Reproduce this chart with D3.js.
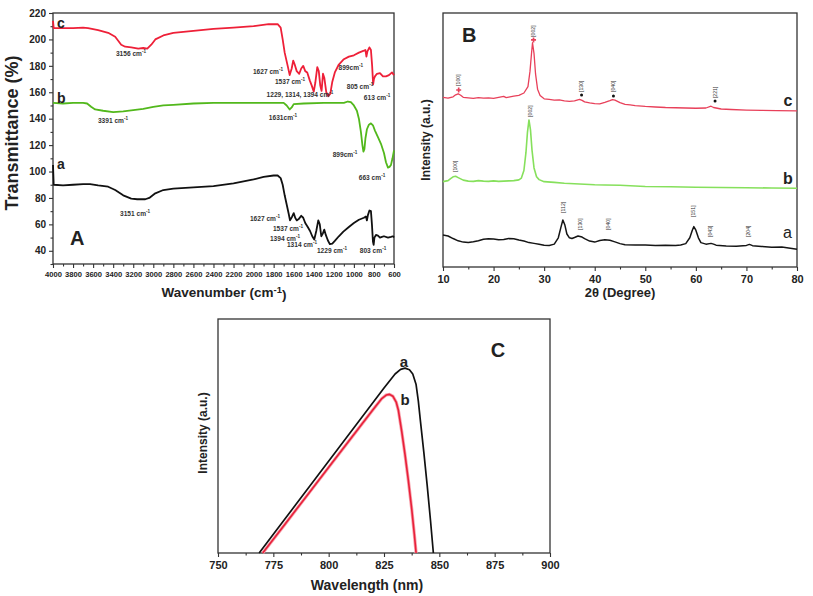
<!DOCTYPE html>
<html><head><meta charset="utf-8">
<script src="https://cdn.jsdelivr.net/npm/d3@7"></script>
<style>body{margin:0;background:#fff}svg{display:block;font-family:"Liberation Sans",Arial,sans-serif}</style>
</head><body><svg id="c" width="813" height="596"></svg>
<script>
// ---------- Panel A: FTIR (wavenumber, transmittance) ----------
const irTicks = d3.range(4000, 599, -200);
const irYTicks = d3.range(40, 221, 20);
const irC = [[4000,214],[3993,208.5],[3900,208.5],[3800,208.6],[3700,209],[3650,208.5],[3550,207],[3450,205],[3380,202],[3320,196],[3280,194.5],[3220,194],[3150,193],[3100,193.5],[3060,193],[3020,196],[2980,200],[2900,203],[2800,205],[2600,206.5],[2400,208],[2200,209],[2000,210],[1850,211.5],[1760,211.5],[1730,209],[1710,200],[1690,190],[1660,180],[1640,173],[1620,178],[1605,184],[1590,181],[1570,176],[1545,174],[1525,178],[1505,180],[1485,176],[1465,175],[1440,169],[1420,165],[1400,160.5],[1385,167],[1365,179],[1350,176],[1335,165],[1322,161],[1308,174],[1295,171],[1275,160],[1255,157],[1235,159],[1215,168],[1190,175],[1150,181],[1100,185],[1050,187],[1000,188],[950,190],[900,191.5],[885,192],[875,187],[865,191],[845,194],[830,192],[818,180],[808,166],[800,170],[790,172],[770,174],[740,174.5],[710,172],[680,172],[650,173],[620,175],[600,173]];
const irB = [[4000,152],[3900,151.5],[3800,152],[3700,152],[3660,151.5],[3620,149],[3580,147],[3500,146],[3400,145],[3300,145.5],[3200,146.5],[3100,147.5],[3000,149],[2900,150],[2800,150.5],[2600,151.5],[2400,152],[2000,152],[1800,152],[1700,152],[1670,150],[1640,147],[1620,148.5],[1600,151],[1500,151.5],[1300,152],[1100,152],[1060,153],[1030,152.5],[1000,150],[970,146],[950,140],[930,130],[915,120],[905,115],[895,117],[885,125],[870,132],[850,135.5],[830,136.5],[810,135],[790,131],[760,126],[730,121],[700,114],[680,107],[660,103],[645,103.5],[630,105],[615,110],[600,116]];
const irA = [[4000,105],[3993,90],[3900,89.5],[3800,90],[3700,90.5],[3630,90.5],[3550,89.5],[3450,88.5],[3380,86],[3300,82],[3220,79.5],[3160,79],[3080,79],[3040,80],[2980,83.5],[2900,86],[2800,87],[2600,88],[2400,89],[2200,91],[2100,92.5],[2000,94],[1900,96],[1800,97],[1760,97],[1730,95],[1710,90],[1690,82],[1670,75],[1650,68],[1637,63],[1615,66],[1600,68.5],[1585,65],[1570,63],[1550,64],[1525,66.5],[1505,65],[1485,61],[1460,58],[1437,55],[1415,51],[1395,48.5],[1375,55],[1355,63],[1340,60],[1325,51],[1310,53],[1295,56],[1280,52],[1260,48],[1240,45],[1215,45.5],[1190,47.5],[1150,51],[1105,54.5],[1050,58],[1000,61],[950,63.5],[900,65],[880,66],[870,63],[860,67],[845,70.5],[830,70],[820,60],[810,47],[803,44.5],[795,50],[780,52],[760,51.5],[740,50],[720,50.5],[700,51],[660,50],[630,50.5],[610,51],[600,50]];
const irNotes = [["3156 cm",3222,189.7],["1627 cm",1856,176.1],["1537 cm",1637,168.5],["1229, 1314, 1394 cm",1537,158.7],["899cm",1030,179.1],["805 cm",939,164.7],["613 cm",769,156.4],["3391 cm",3402,139],["1631cm",1707,141.3],["899cm",1089,113.3],["663 cm",819,95.9],["3151 cm",3182,68.6],["1627 cm",1886,64.8],["1537 cm",1657,57.3],["1394 cm",1687,49.7],["1314 cm",1517,45.1],["1229 cm",1218,40.6],["803 cm",809,40.6]];
const irSeriesLabels = [["c",3960,212.5],["b",3960,155.5],["a",3960,105.5]];

// ---------- Panel B: XRD (2theta, intensity a.u.) ----------
const xrdTicks = [10,20,30,40,50,60,70,80];
const xrdC = [[10,66.8],[11,66.5],[12,67],[12.5,67.8],[13,68.2],[13.5,67.6],[14,66.8],[15,66.6],[16,66.4],[17,66.7],[18,66.5],[19,66.6],[20,66.4],[21,66.8],[22,67.2],[22.5,66.7],[23,66.9],[24,67.3],[25,67.6],[26,68.5],[26.8,71],[27.2,77],[27.5,84],[27.7,88.3],[28,84],[28.3,76],[28.7,70],[29.2,67.5],[30,66.2],[31,66],[32,65.7],[33,65.8],[34,65.4],[35,65.2],[36,65.4],[37,66],[37.5,65.6],[38,65],[39,64.6],[40,64.3],[41,64.2],[42,64.8],[43,65.5],[43.5,65.9],[44,65.7],[45,64.7],[46,64],[47,63.8],[48,63.5],[50,63.2],[52,63],[54,62.8],[56,62.7],[58,62.6],[60,62.5],[62,62.6],[63,63.3],[63.5,62.8],[65,62.2],[67,62],[70,61.8],[73,61.7],[76,61.6],[80,61.5]];
const xrdB = [[10,33.6],[11,34],[11.5,34.8],[12,35.5],[12.5,35.7],[13,35.2],[14,34.2],[15,33.8],[16,33.7],[17,34],[18,33.8],[19,33.7],[20,33.9],[21,33.7],[22,33.8],[23,33.9],[24,34],[25,34.3],[25.5,35],[26,38],[26.4,45],[26.7,53],[27,57.9],[27.3,54],[27.6,46],[28,39],[28.5,35.5],[29,34.4],[30,33.6],[32,33.3],[34,33],[36,32.8],[38,32.6],[40,32.4],[42,32.3],[45,32.2],[48,31.9],[50,31.7],[55,31.6],[60,31.4],[65,31.3],[70,31.2],[75,31.1],[80,31]];
const xrdA = [[10,12.6],[10.5,12.4],[11,12.2],[12,11.2],[13,10.3],[14,9.8],[15,9.6],[16,9.9],[17,10.3],[18,10.9],[19,11.1],[20,11],[21,10.7],[22,10.8],[23,11.2],[24,11.1],[25,10.6],[26,10.2],[27,9.6],[28,9.3],[29,9],[30,8.6],[31,8.5],[32,9],[32.8,11.5],[33.3,15.5],[33.7,18.5],[34.1,16.5],[34.5,13],[35,11.5],[35.5,11.2],[36,11.6],[36.7,12.2],[37.5,11.8],[38,11.2],[39,10.2],[40,9.8],[41,10.4],[42,10.7],[43,10.5],[44,9.9],[45,9.2],[46,8.8],[48,8.7],[50,8.7],[52,8.5],[54,8.6],[56,8.5],[57,8.7],[58,9.2],[58.8,11.5],[59.3,14.5],[59.6,15.9],[60,14.5],[60.5,11.5],[61,9.6],[62,9],[63,9.3],[63.5,9],[64,8.6],[66,8.3],[68,8.2],[70,8.5],[70.6,8.9],[71.2,8.4],[73,8.1],[75,7.8],[77,7.9],[78,7.6],[80,7]];
const xrdPeaks = [["[100]",13.1,71.3],["[002]",27.9,90.6],["[130]",37.4,68.9],["[040]",43.7,68.9],["[221]",63.8,66.5],["[100]",12.4,37.4],["[002]",27.2,59.1],["[112]",33.8,21.3],["[130]",37.1,14.6],["[040]",42.7,14.6],["[151]",59.5,19.7],["[043]",62.8,11.8],["[204]",70.4,11.8]];
const xrdStars = [[13.1,69.7],[27.9,89.4]];
const xrdDots = [[37.4,67.7],[43.7,67.3],[63.8,65.4]];
const xrdSeriesLabels = [["c",78.2,65.7],["b",78.2,35],["a",78.1,13.4]];

// ---------- Panel C: PL (wavelength, intensity a.u.) ----------
const plTicks = [750,775,800,825,850,875,900];
const plA = [[768.6,0],[775,8],[785,20.5],[795,33],[805,45.5],[815,58],[825,70.5],[830,76.5],[832.5,78.5],[834.5,79],[836.5,78.3],[838,76.5],[839.5,72],[840.5,65],[841.5,56],[843,43],[844.5,29],[846,14],[847.3,0]];
const plB = [[770.2,0],[780,12],[790,24.3],[800,36.6],[810,48.9],[820,61.2],[824,66],[826,67.5],[827.5,67.8],[829,67],[830.5,64.5],[831.5,61],[833,52],[834.5,42],[836,31],[837.5,19],[838.7,8],[839.5,0]];
const plSeriesLabels = [["a",834,81.8],["b",834.5,65.4]];

const svg = d3.select("#c");
svg.append("rect").attr("width",813).attr("height",596).attr("fill","#fff");
const DARK = "#222";

function frame(x, y) {
  const [x0,x1] = x.range(), [y0,y1] = y.range();
  svg.append("rect").attr("x",Math.min(x0,x1)).attr("y",Math.min(y0,y1))
    .attr("width",Math.abs(x1-x0)).attr("height",Math.abs(y1-y0))
    .attr("fill","none").attr("stroke","#333").attr("stroke-width",1.3);
}
function styleAxis(g, fs) {
  g.selectAll("path").remove();
  g.selectAll("line").attr("stroke","#333").attr("stroke-width",1.1);
  g.selectAll("text").attr("font-size",fs).attr("font-weight","bold").attr("fill",DARK)
    .attr("font-family","'Liberation Sans',Arial,sans-serif");
}
function sup(textSel, base, supTxt, tail) {
  textSel.append("tspan").text(base);
  textSel.append("tspan").attr("dy","-0.45em").attr("font-size","0.7em").text(supTxt);
  if (tail) textSel.append("tspan").attr("dy","0.45em").text(tail);
}
const line = (x,y) => d3.line().x(d=>x(d[0])).y(d=>y(d[1]));

// ===== Panel A =====
const xA = d3.scaleLinear().domain([4000,600]).range([53,394]);
const yA = d3.scaleLinear().domain([30,220]).range([264,13]);
{
  const gx = svg.append("g").attr("transform","translate(0,264)")
    .call(d3.axisBottom(xA).tickValues(irTicks).tickSize(4).tickPadding(4).tickFormat(d3.format("d")));
  styleAxis(gx, 7.6);
  const gxm = svg.append("g").attr("transform","translate(0,264)")
    .call(d3.axisBottom(xA).tickValues(d3.range(3900,600,-200)).tickSize(2.5).tickFormat(""));
  styleAxis(gxm, 7);
  const gy = svg.append("g").attr("transform","translate(53,0)")
    .call(d3.axisLeft(yA).tickValues(irYTicks).tickSize(4).tickPadding(3));
  styleAxis(gy, 10);
  const gym = svg.append("g").attr("transform","translate(53,0)")
    .call(d3.axisLeft(yA).tickValues(d3.range(30,220,20)).tickSize(2.5).tickFormat(""));
  styleAxis(gym, 7);
  frame(xA,yA);
  const series = [[irC,"#ee2038"],[irB,"#52b81c"],[irA,"#111"]];
  series.forEach(([d,c]) => svg.append("path").attr("d",line(xA,yA)(d))
    .attr("fill","none").attr("stroke",c).attr("stroke-width",1.8).attr("stroke-linejoin","round"));
  irNotes.forEach(([t,wn,v]) => {
    const tx = svg.append("text").attr("x",xA(wn)).attr("y",yA(v)).attr("text-anchor","middle")
      .attr("dominant-baseline","central").attr("font-size",6.6).attr("font-weight","bold").attr("fill","#333");
    sup(tx, t, "-1");
  });
  irSeriesLabels.forEach(([t,wn,v]) => svg.append("text").attr("x",xA(wn)).attr("y",yA(v))
    .attr("dominant-baseline","central").attr("font-size",14).attr("font-weight","bold").attr("fill",DARK).text(t));
  svg.append("text").attr("x",70).attr("y",245).attr("font-size",20).attr("font-weight","bold").attr("fill",DARK).text("A");
  svg.append("text").attr("transform","translate(18,133) rotate(-90)").attr("text-anchor","middle")
    .attr("font-size",18).attr("font-weight","bold").attr("fill",DARK).text("Transmittance (%)");
  const xt = svg.append("text").attr("x",224).attr("y",297).attr("text-anchor","middle")
    .attr("font-size",13.5).attr("font-weight","bold").attr("fill",DARK);
  sup(xt, "Wavenumber (cm", "-1", ")");
}

// ===== Panel B =====
const xB = d3.scaleLinear().domain([10,80]).range([443,797]);
const yB = d3.scaleLinear().domain([0,100]).range([267,13]);
{
  const gx = svg.append("g").attr("transform","translate(0,267)")
    .call(d3.axisBottom(xB).tickValues(xrdTicks).tickSize(4).tickPadding(4));
  styleAxis(gx, 11);
  const gxm = svg.append("g").attr("transform","translate(0,267)")
    .call(d3.axisBottom(xB).tickValues(d3.range(15,80,10)).tickSize(2.5).tickFormat(""));
  styleAxis(gxm, 7);
  frame(xB,yB);
  const series = [[xrdC,"#e8405a",1.3],[xrdB,"#86e05c",1.6],[xrdA,"#151515",1.5]];
  series.forEach(([d,c,w]) => svg.append("path").attr("d",line(xB,yB)(d))
    .attr("fill","none").attr("stroke",c).attr("stroke-width",w).attr("stroke-linejoin","round"));
  xrdPeaks.forEach(([t,a,v]) => svg.append("text")
    .attr("transform",`translate(${xB(a)+1.8},${yB(v)}) rotate(-90)`)
    .attr("font-size",5.2).attr("fill","#333").text(t));
  xrdStars.forEach(([a,v]) => svg.append("path").attr("d",d3.symbol(d3.symbolCross,14)())
    .attr("transform",`translate(${xB(a)},${yB(v)})`).attr("fill","#e8405a"));
  xrdDots.forEach(([a,v]) => svg.append("circle").attr("cx",xB(a)).attr("cy",yB(v)).attr("r",1.5).attr("fill","#111"));
  xrdSeriesLabels.forEach(([t,a,v],i) => svg.append("text").attr("x",xB(a)).attr("y",yB(v))
    .attr("text-anchor","middle").attr("dominant-baseline","central")
    .attr("font-size",16).attr("font-weight",i<2?"bold":"normal").attr("fill",DARK).text(t));
  svg.append("text").attr("x",462).attr("y",42).attr("font-size",20).attr("font-weight","bold").attr("fill",DARK).text("B");
  svg.append("text").attr("transform","translate(430,140) rotate(-90)").attr("text-anchor","middle")
    .attr("font-size",12).attr("font-weight","bold").attr("fill",DARK).text("Intensity (a.u.)");
  svg.append("text").attr("x",620).attr("y",297).attr("text-anchor","middle")
    .attr("font-size",13).attr("font-weight","bold").attr("fill",DARK).text("2θ (Degree)");
}

// ===== Panel C =====
const xC = d3.scaleLinear().domain([750,900]).range([218,550]);
const yC = d3.scaleLinear().domain([0,100]).range([553,319]);
{
  const gx = svg.append("g").attr("transform","translate(0,553)")
    .call(d3.axisBottom(xC).tickValues(plTicks).tickSize(4).tickPadding(4));
  styleAxis(gx, 11);
  const gxm = svg.append("g").attr("transform","translate(0,553)")
    .call(d3.axisBottom(xC).tickValues(d3.range(762.5,900,25)).tickSize(2.5).tickFormat(""));
  styleAxis(gxm, 7);
  frame(xC,yC);
  svg.append("path").attr("d",line(xC,yC)(plB)).attr("fill","none").attr("stroke","#f7a0aa").attr("stroke-width",3.2);
  svg.append("path").attr("d",line(xC,yC)(plA)).attr("fill","none").attr("stroke","#111").attr("stroke-width",1.7).attr("stroke-linejoin","round");
  svg.append("path").attr("d",line(xC,yC)(plB)).attr("fill","none").attr("stroke","#e8203a").attr("stroke-width",1.6).attr("stroke-linejoin","round");
  plSeriesLabels.forEach(([t,w,v]) => svg.append("text").attr("x",xC(w)).attr("y",yC(v))
    .attr("text-anchor","middle").attr("dominant-baseline","central")
    .attr("font-size",15).attr("font-weight","bold").attr("fill",DARK).text(t));
  svg.append("text").attr("x",498).attr("y",357).attr("text-anchor","middle").attr("font-size",20).attr("font-weight","bold").attr("fill",DARK).text("C");
  svg.append("text").attr("transform","translate(207,433) rotate(-90)").attr("text-anchor","middle")
    .attr("font-size",12).attr("font-weight","bold").attr("fill",DARK).text("Intensity (a.u.)");
  svg.append("text").attr("x",367).attr("y",590).attr("text-anchor","middle")
    .attr("font-size",14).attr("font-weight","bold").attr("fill",DARK).text("Wavelength (nm)");
}
</script></body></html>
